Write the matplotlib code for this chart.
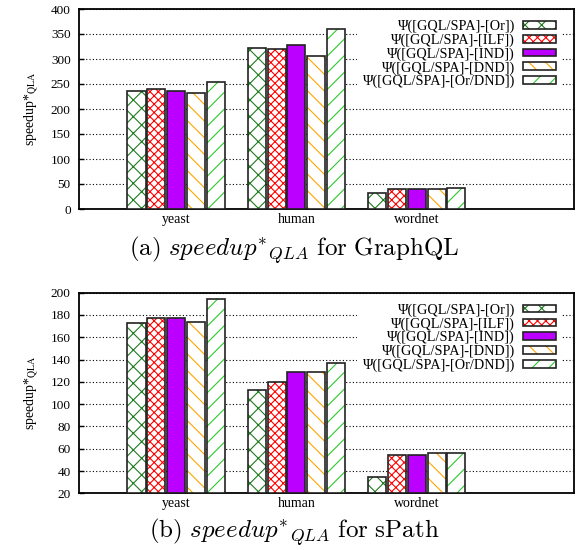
import matplotlib
matplotlib.use("Agg")
import matplotlib.pyplot as plt
import numpy as np

datasets = ["yeast", "human", "wordnet"]
series = ["Ψ([GQL/SPA]-[Or])", "Ψ([GQL/SPA]-[ILF])", "Ψ([GQL/SPA]-[IND])",
          "Ψ([GQL/SPA]-[DND])", "Ψ([GQL/SPA]-[Or/DND])"]

# (a) GraphQL
graphql_or = [237, 322, 33]
graphql_ilf = [241, 320, 41]
graphql_ind = [237, 329, 41]
graphql_dnd = [233, 307, 41]
graphql_ordnd = [255, 360, 43]

# (b) sPath
spath_or = [173, 113, 35]
spath_ilf = [177, 120, 54]
spath_ind = [177, 129, 54]
spath_dnd = [174, 129, 56]
spath_ordnd = [194, 137, 56]

captions = [r"$\mathrm{(a)}\ speedup^{*}{}_{QLA}\ \mathrm{for\ GraphQL}$",
            r"$\mathrm{(b)}\ speedup^{*}{}_{QLA}\ \mathrm{for\ sPath}$"]

plt.rcParams['font.family'] = ['Liberation Serif', 'DejaVu Serif']
plt.rcParams['hatch.linewidth'] = 0.8

styles = [
    dict(fc='white', hc='#1e7b1e', hatch='xx'),
    dict(fc='white', hc='#ff0000', hatch='xxxx'),
    dict(fc='#bb00ff', hc='#bb00ff', hatch=None),
    dict(fc='white', hc='#ffa500', hatch='\\\\'),
    dict(fc='white', hc='#2ec82e', hatch='//'),
]

fig = plt.figure(figsize=(5.8, 5.5), dpi=100)
W = 580.0
H = 550.0
ax_top = fig.add_axes([79 / W, 1 - 209 / H, 495 / W, 200 / H])
ax_bot = fig.add_axes([79 / W, 1 - 493.3 / H, 495 / W, 200.6 / H])

panels = [
    (ax_top, [graphql_or, graphql_ilf, graphql_ind, graphql_dnd, graphql_ordnd],
     (0, 400), np.arange(0, 401, 50), 250),
    (ax_bot, [spath_or, spath_ilf, spath_ind, spath_dnd, spath_ordnd],
     (20, 200), np.arange(20, 201, 20), 532),
]

slot = 0.165
bw = 0.15
x = np.arange(len(datasets))

for pi, (ax, vals, ylim, yt, cap_y) in enumerate(panels):
    handles = []
    for i, (v, st) in enumerate(zip(vals, styles)):
        xs = x + (i - 2) * slot
        base = ylim[0]
        hv = [val - base for val in v]
        if st['hatch']:
            b1 = ax.bar(xs, hv, bw, bottom=base, color=st['fc'], edgecolor=st['hc'],
                        hatch=st['hatch'], linewidth=0, zorder=3)
        else:
            b1 = ax.bar(xs, hv, bw, bottom=base, color=st['fc'], linewidth=0, zorder=3)
        b2 = ax.bar(xs, hv, bw, bottom=base, fill=False, edgecolor='#222222',
                    linewidth=1.2, zorder=4)
        handles.append((b1, b2))
    ax.set_xlim(-0.808, 3.308)
    ax.set_ylim(*ylim)
    ax.set_yticks(yt)
    ax.set_xticks(x)
    ax.set_xticklabels(datasets, fontsize=10)
    ax.tick_params(axis='x', length=0, pad=3)
    ax.tick_params(axis='y', direction='in', length=3.5, width=1.0, labelsize=9.5, pad=6)
    ax.yaxis.grid(True, linestyle=(0, (1, 2)), color='black', linewidth=0.8)
    ax.set_axisbelow(True)
    for sp in ax.spines.values():
        sp.set_linewidth(1.3)
    ax.set_ylabel(r"speedup*$_{\mathrm{QLA}}$", fontsize=10, labelpad=7,
                  math_fontfamily='stix')
    leg = ax.legend(handles, series, loc='upper right', bbox_to_anchor=(0.976, 0.975),
                    markerfirst=False, fontsize=10.3, frameon=True, fancybox=False,
                    edgecolor='none', facecolor='white', framealpha=1,
                    handlelength=2.35, handleheight=0.45, handletextpad=0.55,
                    labelspacing=0.02, borderpad=0.4, borderaxespad=0)
    leg.set_zorder(2)
    fig.text(294 / W, 1 - cap_y / H, captions[pi], ha='center', va='center',
             fontsize=18, math_fontfamily='cm')

fig.savefig("out.png", dpi=100)
